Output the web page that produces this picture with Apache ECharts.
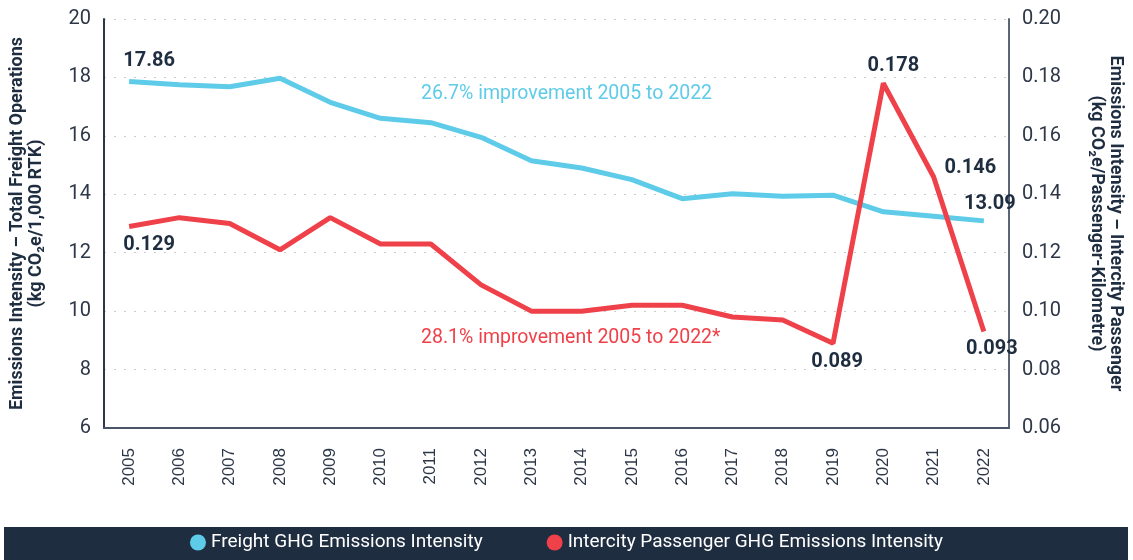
<!DOCTYPE html>
<html lang="en">
<head>
    <meta charset="UTF-8">
    <title>Emissions Intensity</title>
    <script src="https://cdn.jsdelivr.net/npm/echarts@6/dist/echarts.min.js"></script>
    <style>
        body, html {
            margin: 0;
            height: 100%;
            background: #fff;
        }

        #chart {
            width: 1133px;
            height: 560px;
        }
    </style>
</head>
<body>
<div id="chart"></div>
<script>
    const years = ['2005', '2006', '2007', '2008', '2009', '2010', '2011', '2012', '2013',
        '2014', '2015', '2016', '2017', '2018', '2019', '2020', '2021', '2022'];
    const freight = [17.86, 17.75, 17.68, 17.97, 17.15, 16.6, 16.45, 15.95, 15.15,
        14.9, 14.5, 13.85, 14.02, 13.93, 13.97, 13.4, 13.25, 13.09];
    const passenger = [0.129, 0.132, 0.130, 0.121, 0.132, 0.123, 0.123, 0.109, 0.100,
        0.100, 0.102, 0.102, 0.098, 0.097, 0.089, 0.178, 0.146, 0.093];

    const navy = '#1f2d40';
    const cyan = '#5ecbe9';
    const red = '#ef4149';

    const labelStyle = {show: true, color: navy, fontSize: 20, fontWeight: 'bold', fontFamily: 'Roboto'};

    // only a few points carry labels
    const freightData = freight.map((v, i) => {
        if (i === 0) return {value: v, label: Object.assign({}, labelStyle, {position: 'top', offset: [20, -6]})};
        if (i === freight.length - 1) return {value: v, label: Object.assign({}, labelStyle, {position: 'top', offset: [6, -2]})};
        return v;
    });
    const passengerData = passenger.map((v, i) => {
        const y = years[i];
        if (y === '2005') return {value: v, label: Object.assign({}, labelStyle, {position: 'bottom', offset: [20, 4]})};
        if (y === '2019') return {value: v, label: Object.assign({}, labelStyle, {position: 'bottom', offset: [4, 4]})};
        if (y === '2020') return {value: v, label: Object.assign({}, labelStyle, {position: 'top', offset: [10, -2]})};
        if (y === '2021') return {value: v, label: Object.assign({}, labelStyle, {position: 'right', offset: [6, -9]})};
        if (y === '2022') return {value: v, label: Object.assign({}, labelStyle, {position: 'bottom', offset: [8, 2]})};
        return v;
    });

    const chart = echarts.init(document.getElementById('chart'));

    const option = {
        animation: false,
        grid: {left: 100, right: 112, top: 19, bottom: 132},
        legend: {
            bottom: 3,
            left: 'center',
            itemGap: 64,
            itemWidth: 16,
            itemHeight: 22,
            icon: 'circle',
            textStyle: {color: '#fff', fontSize: 19, fontFamily: 'Roboto'},
            data: ['Freight GHG Emissions Intensity', 'Intercity Passenger GHG Emissions Intensity']
        },
        graphic: [
            {type: 'rect', left: 4, bottom: 0, z: -1, shape: {width: 1124, height: 33}, style: {fill: navy}},
            {type: 'text', left: 421, top: 84, style: {text: '26.7% improvement 2005 to 2022', fill: cyan, fontSize: 19.5, fontFamily: 'Roboto'}},
            {type: 'text', left: 421, top: 328, style: {text: '28.1% improvement 2005 to 2022*', fill: red, fontSize: 19.5, fontFamily: 'Roboto'}}
        ],
        xAxis: {
            type: 'category',
            data: years,
            boundaryGap: true,
            axisLine: {lineStyle: {color: '#4a5568', width: 2}},
            axisTick: {show: false},
            axisLabel: {rotate: 90, margin: 20, color: '#2d3748', fontSize: 17, fontFamily: 'Liberation Sans'}
        },
        yAxis: [
            {
                type: 'value',
                min: 6, max: 20, interval: 2,
                name: 'Emissions Intensity \u2013 Total Freight Operations\n(kg CO\u2082e/1,000 RTK)',
                nameLocation: 'middle',
                nameGap: 58,
                nameTextStyle: {color: navy, fontSize: 18, fontWeight: 'bold', fontFamily: 'Roboto', lineHeight: 19},
                axisLine: {show: true, lineStyle: {color: '#2d3748', width: 2}},
                axisTick: {show: false},
                axisLabel: {color: '#2d3748', fontSize: 20, fontFamily: 'Roboto', margin: 13},
                splitLine: {lineStyle: {color: '#c8ccd0', type: [2, 8]}}
            },
            {
                type: 'value',
                min: 0.06, max: 0.20, interval: 0.02,
                position: 'right',
                name: 'Emissions Intensity \u2013 Intercity Passenger\n(kg CO\u2082e/Passenger-Kilometre)',
                nameLocation: 'middle',
                nameGap: 78,
                nameRotate: -90,
                nameTextStyle: {color: navy, fontSize: 18, fontWeight: 'bold', fontFamily: 'Roboto', lineHeight: 19},
                axisLine: {show: true, lineStyle: {color: '#5a6576', width: 2}},
                axisTick: {show: false},
                axisLabel: {color: '#2d3748', fontSize: 20, fontFamily: 'Roboto', margin: 13, formatter: v => v.toFixed(2)},
                splitLine: {show: false}
            }
        ],
        series: [
            {
                name: 'Freight GHG Emissions Intensity',
                type: 'line',
                yAxisIndex: 0,
                data: freightData,
                symbol: 'circle',
                symbolSize: 0,
                itemStyle: {color: cyan},
                lineStyle: {color: cyan, width: 5}
            },
            {
                name: 'Intercity Passenger GHG Emissions Intensity',
                type: 'line',
                yAxisIndex: 1,
                data: passengerData,
                symbol: 'circle',
                symbolSize: 0,
                itemStyle: {color: red},
                lineStyle: {color: red, width: 5}
            }
        ]
    };

    chart.setOption(option);
</script>
</body>
</html>
